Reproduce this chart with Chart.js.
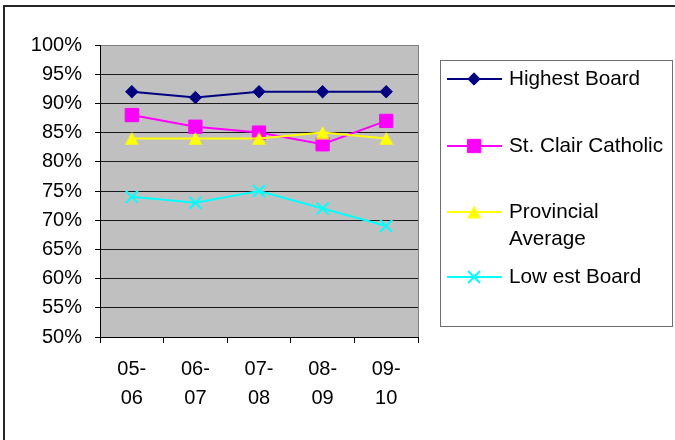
<!DOCTYPE html>
<html>
<head>
<meta charset="utf-8">
<title>Board comparison</title>
<script src="https://cdn.jsdelivr.net/npm/chart.js@4/dist/chart.umd.min.js"></script>
<style>
  html, body { margin: 0; padding: 0; background: #ffffff; }
  #wrap { width: 675px; height: 440px; }
</style>
</head>
<body>
<div id="wrap"><canvas id="chart" width="675" height="440"></canvas></div>
<script>
// School years shown along the x axis
const seasons = ['05-06', '06-07', '07-08', '08-09', '09-10'];

// Percentages per series
const highestBoard   = [92, 91, 92, 92, 92];
const stClair        = [88, 86, 85, 83, 87];
const provincialAvg  = [84, 84, 84, 85, 84];
const lowestBoard    = [74, 73, 75, 72, 69];

// Series names (legend text, one entry per line)
const seriesNames = [
  ['Highest Board'],
  ['St. Clair Catholic'],
  ['Provincial', 'Average'],
  ['Low est Board']
];

// Value axis ticks
const yMin = 50, yMax = 100, yStep = 5;

const FONT = '"Liberation Sans", Arial, Helvetica, sans-serif';

// Triangle marker whose box is centred on the point
function triangleMarker(color) {
  const c = document.createElement('canvas');
  c.width = 15; c.height = 14;
  const g = c.getContext('2d');
  g.fillStyle = color;
  g.beginPath();
  g.moveTo(7.5, 0.5);
  g.lineTo(14.5, 13.5);
  g.lineTo(0.5, 13.5);
  g.closePath();
  g.fill();
  return c;
}

// Grey plot background, grey right edge and the outer frame
const framePlugin = {
  id: 'frame',
  beforeDraw(chart) {
    const { ctx, chartArea: a } = chart;
    ctx.save();
    ctx.fillStyle = '#ffffff';
    ctx.fillRect(0, 0, chart.width, chart.height);
    ctx.fillStyle = '#c0c0c0';
    ctx.fillRect(a.left, a.top, a.right - a.left, a.bottom - a.top);
    ctx.restore();
  },
  afterDraw(chart) {
    const { ctx, chartArea: a } = chart;
    ctx.save();
    ctx.strokeStyle = '#808080';
    ctx.lineWidth = 1;
    ctx.beginPath();
    ctx.moveTo(a.right + 0.5, a.top);
    ctx.lineTo(a.right + 0.5, a.bottom);
    ctx.stroke();
    // outer frame (runs past the right and bottom edges)
    ctx.strokeStyle = '#262626';
    ctx.lineWidth = 2;
    ctx.beginPath();
    ctx.moveTo(4, chart.height + 5);
    ctx.lineTo(4, 6);
    ctx.lineTo(chart.width + 5, 6);
    ctx.stroke();
    ctx.restore();
  }
};

// Boxed legend on the right, with line + marker samples
const boxLegend = {
  id: 'boxLegend',
  afterDraw(chart) {
    const { ctx } = chart;
    const box = { x: 440.5, y: 60.5, w: 232, h: 266 };
    const rows = [79, 146, 212, 277];
    const lineH = 27;
    ctx.save();
    ctx.strokeStyle = '#6e6e6e';
    ctx.lineWidth = 1;
    ctx.strokeRect(box.x, box.y, box.w, box.h);
    chart.data.datasets.forEach((ds, i) => {
      const y = rows[i];
      ctx.strokeStyle = ds.borderColor;
      ctx.lineWidth = 2;
      ctx.beginPath();
      ctx.moveTo(447, y);
      ctx.lineTo(502, y);
      ctx.stroke();
      ctx.fillStyle = ds.pointBackgroundColor;
      ctx.strokeStyle = ds.pointBorderColor;
      ctx.lineWidth = ds.pointBorderWidth;
      Chart.helpers.drawPoint(ctx, {
        pointStyle: ds.pointStyle,
        radius: ds.pointRadius,
        rotation: 0,
        borderWidth: ds.pointBorderWidth
      }, 474, y);
      ctx.fillStyle = '#000000';
      ctx.font = '20.7px ' + FONT;
      ctx.textBaseline = 'middle';
      ctx.textAlign = 'left';
      seriesNames[i].forEach((line, k) => {
        ctx.fillText(line, 509, y + k * lineH);
      });
    });
    ctx.restore();
  }
};

function series(name, data, color, style, radius, bw, order) {
  return {
    label: name.join(' '),
    data: data,
    borderColor: color,
    backgroundColor: color,
    borderWidth: 2,
    pointStyle: style,
    pointRadius: radius,
    pointHoverRadius: radius,
    pointBackgroundColor: color,
    pointBorderColor: color,
    pointBorderWidth: bw,
    tension: 0,
    fill: false,
    order: order
  };
}

new Chart(document.getElementById('chart'), {
  type: 'line',
  data: {
    labels: seasons,
    datasets: [
      series(seriesNames[0], highestBoard, '#000080', 'rectRot', 6.2, 1, 4),
      series(seriesNames[1], stClair, '#ff00ff', 'rect', 9.4, 1, 3),
      series(seriesNames[2], provincialAvg, '#ffff00', triangleMarker('#ffff00'), 8, 0, 2),
      series(seriesNames[3], lowestBoard, '#00ffff', 'crossRot', 8.5, 2, 1)
    ]
  },
  options: {
    responsive: false,
    animation: false,
    devicePixelRatio: 1,
    layout: { padding: { left: 0, right: 257, top: 45, bottom: 0 } },
    plugins: {
      legend: { display: false },
      tooltip: { enabled: false },
      title: { display: false }
    },
    scales: {
      x: {
        type: 'category',
        offset: true,
        afterFit(scale) { scale.height = 103; },
        grid: {
          offset: true,
          drawOnChartArea: false,
          drawTicks: true,
          tickLength: 6,
          tickColor: '#000000',
          color: '#000000'
        },
        border: { color: '#000000', width: 1 },
        ticks: {
          color: '#000000',
          padding: 12,
          maxRotation: 0,
          autoSkip: false,
          font: { family: FONT, size: 20, lineHeight: 1.45 },
          callback(value) {
            const s = this.getLabelForValue(value);
            const p = s.split('-');
            return [p[0] + '-', p[1]];
          }
        }
      },
      y: {
        min: yMin,
        max: yMax,
        afterFit(scale) { scale.width = 100; },
        grid: {
          drawTicks: true,
          tickLength: 5,
          tickColor: '#000000',
          color(ctx) { return ctx.tick && ctx.tick.value === yMax ? '#808080' : '#1a1a1a'; },
          lineWidth: 1
        },
        border: { color: '#000000', width: 1 },
        ticks: {
          stepSize: yStep,
          color: '#000000',
          padding: 13,
          font: { family: FONT, size: 20 },
          callback(v) { return v + '%'; }
        }
      }
    }
  },
  plugins: [framePlugin, boxLegend]
});
</script>
</body>
</html>
